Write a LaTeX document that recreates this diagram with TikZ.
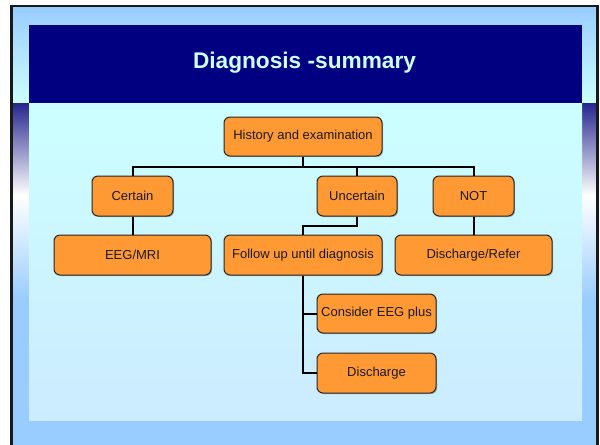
\documentclass[tikz,border=0pt]{standalone}
\usepackage{fontspec}
\setmainfont{Liberation Sans}
\usetikzlibrary{shadows}
\definecolor{navy}{HTML}{000080}
\definecolor{skyb}{HTML}{99CCFF}
\definecolor{paleb}{HTML}{CCFFFF}
\definecolor{paleb2}{HTML}{CCEBFF}
\definecolor{stripd}{HTML}{26268F}
\definecolor{boxor}{HTML}{FF9933}
\definecolor{boxtext}{HTML}{1A1A1A}
\tikzset{
  boxnode/.style={draw=black!85, line width=0.75pt, fill=boxor, rounded corners=4.5pt,
    inner sep=0pt, text=boxtext, font=\fontsize{9.75}{11.7}\selectfont,
    drop shadow={shadow xshift=0.8pt, shadow yshift=-0.8pt, fill=black, opacity=0.25}},
  conn/.style={draw=black, line width=1.5pt},
}
\begin{document}
\begin{tikzpicture}[x=0.75pt,y=-0.75pt]
\useasboundingbox (0,0) rectangle (600,444);
\fill[white] (0,0) rectangle (600,444);
% outer background
\shade[top color=skyb, bottom color=paleb] (11,6) rectangle (598,103);
\shade[top color=stripd, bottom color=white] (11,103) rectangle (598,195);
\shade[top color=white, bottom color=skyb] (11,195) rectangle (598,300);
\fill[skyb] (11,300) rectangle (598,450);
% title band
\fill[navy] (29,25) rectangle (582,103);
% content panel
\shade[top color=paleb, bottom color=paleb2] (29,103) rectangle (582,420);
% frame
\draw[black!90, line width=2.2pt] (11.5,460) -- (11.5,6) -- (597.8,6) -- (597.8,460);
% title
\node[text=paleb, font=\fontsize{17}{20}\selectfont\bfseries] (title) at (304.5,63) {Diagnosis -summary};
% boxes
\node[boxnode, minimum width=118.5pt, minimum height=29.25pt] (hist) at (303,136.5) {History and examination};
\node[boxnode, minimum width=60.75pt, minimum height=30pt] (cert) at (132.5,196) {Certain};
\node[boxnode, minimum width=60pt, minimum height=30pt] (unc) at (357,196) {Uncertain};
\node[boxnode, minimum width=60.75pt, minimum height=30pt] (notn) at (473.5,196) {NOT};
\node[boxnode, minimum width=117.75pt, minimum height=30pt] (eeg) at (132.5,255) {EEG/MRI};
\node[boxnode, minimum width=118.5pt, minimum height=30pt] (fol) at (303,255) {Follow up until diagnosis};
\node[boxnode, minimum width=117.75pt, minimum height=30pt] (dref) at (473.5,255) {Discharge/Refer};
\node[boxnode, minimum width=89.25pt, minimum height=29.25pt] (cons) at (376.5,313.5) {Consider EEG plus};
\node[boxnode, minimum width=89.25pt, minimum height=30pt] (dis) at (376.5,373) {Discharge};
% connectors
\coordinate (bus) at (0,166.7);
\coordinate (mid) at (0,225.5);
\draw[conn] (hist.south) -- (hist.south |- bus);
\draw[conn] (cert.north) -- (cert.north |- bus) -| (notn.north);
\draw[conn] (unc.north) -- (unc.north |- bus);
\draw[conn] (cert.south) -- (eeg.north);
\draw[conn] (notn.south) -- (dref.north);
\draw[conn] (unc.south) -- (unc.south |- mid) -| (fol.north);
\draw[conn] (fol.south) |- (cons.west);
\draw[conn] (fol.south) |- (dis.west);
\end{tikzpicture}
\end{document}
